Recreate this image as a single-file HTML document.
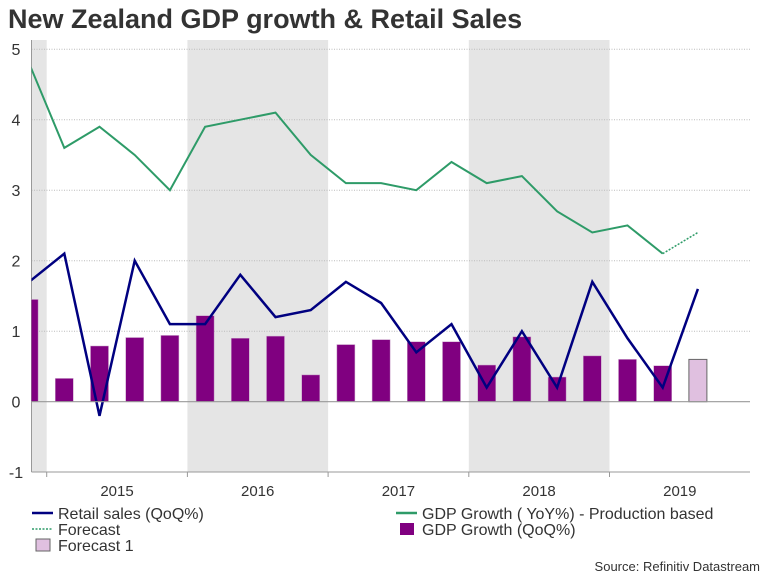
<!DOCTYPE html>
<html><head><meta charset="utf-8"><style>
body{margin:0;background:#fff;font-family:"Liberation Sans",sans-serif;}
svg text{font-family:"Liberation Sans",sans-serif;}
</style></head><body>
<svg width="768" height="576" xmlns="http://www.w3.org/2000/svg">
<text x="8" y="28" font-size="27" font-weight="bold" fill="#333">New Zealand GDP growth &amp; Retail Sales</text>
<g id="plot"></g>
<g font-size="16" fill="#333">
<line x1="32" y1="513" x2="53" y2="513" stroke="#000080" stroke-width="2.5"/>
<text x="58" y="519">Retail sales (QoQ%)</text>
<line x1="32" y1="529" x2="53" y2="529" stroke="#2e9b68" stroke-width="1.5" stroke-dasharray="2,1.5"/>
<text x="58" y="535">Forecast</text>
<rect x="36" y="539" width="14" height="12" fill="#e0c0e0" stroke="#666"/>
<text x="58" y="551">Forecast 1</text>
<line x1="396" y1="513" x2="417" y2="513" stroke="#2e9b68" stroke-width="2.5"/>
<text x="422" y="519">GDP Growth ( YoY%) - Production based</text>
<rect x="400" y="523" width="14" height="12" fill="#800080"/>
<text x="422" y="535">GDP Growth (QoQ%)</text>
</g>
<text x="760" y="571" font-size="13" fill="#333" text-anchor="end">Source: Refinitiv Datastream</text>
</svg>
<script>
const years = ["2015","2016","2017","2018","2019"];
const yTicks = [-1,0,1,2,3,4,5];
const gdpQoQ = [1.45,0.33,0.79,0.91,0.94,1.22,0.90,0.93,0.38,0.81,0.88,0.85,0.85,0.52,0.92,0.35,0.65,0.60,0.51];
const forecastBar = [0.6];
const retail = [1.7,2.1,-0.2,2.0,1.1,1.1,1.8,1.2,1.3,1.7,1.4,0.7,1.1,0.2,1.0,0.2,1.7,0.9,0.2,1.6];
const gdpYoY = [4.8,3.6,3.9,3.5,3.0,3.9,4.0,4.1,3.5,3.1,3.1,3.0,3.4,3.1,3.2,2.7,2.4,2.5,2.1];
const gdpForecast = [2.1,2.4];
const shadedYears = [0,2,4];

const NS="http://www.w3.org/2000/svg";
const L=31.5,R=750,T=40,B=472;
const y=v=>401.7-v*70.5;
const x=i=>29.1+35.2*i;
const yearStart=k=>46.7+140.7*k;
const g=document.getElementById('plot');
function mk(t,a,p){const e=document.createElementNS(NS,t);for(const k in a)e.setAttribute(k,a[k]);(p||g).appendChild(e);return e;}
const defs=mk('defs',{});
const cp=mk('clipPath',{id:'c'},defs);mk('rect',{x:L,y:T,width:R-L,height:B-T},cp);
const s0=mk('rect',{x:L,y:T,width:yearStart(0)-L,height:B-T,fill:'#e5e5e5'});


shadedYears.forEach(k=>{if(k<4){const r=mk('rect',{x:yearStart(k+1),y:T,width:140.7,height:B-T,fill:'#e5e5e5'});

}});
yTicks.forEach(v=>{
 if(v!==0&&v!==-1){const l=mk('line',{x1:L,x2:R,y1:y(v),y2:y(v),stroke:'#bbb','stroke-dasharray':'1,1.5','stroke-width':1});
 
 }
 const t=mk('text',{x:16,y:y(v)+6,'font-size':16,fill:'#333','text-anchor':'middle'});t.textContent=v;
 
 
});
mk('line',{x1:L,x2:L,y1:T,y2:B,stroke:'#999'});
mk('line',{x1:L,x2:R,y1:B,y2:B,stroke:'#999'});
for(let k=0;k<5;k++){mk('line',{x1:yearStart(k),x2:yearStart(k),y1:B,y2:B+5,stroke:'#999'});}
years.forEach((s,k)=>{const t=mk('text',{x:yearStart(k)+70.3,y:496,'font-size':15,fill:'#333','text-anchor':'middle'});t.textContent=s;

});
const cg=mk('g',{'clip-path':'url(#c)'});
gdpQoQ.forEach((v,i)=>{const r=mk('rect',{x:x(i)-9,y:Math.min(y(v),y(0)),width:18,height:Math.abs(y(v)-y(0)),fill:'#800080',stroke:'#c9a0c9','stroke-width':0.5},cg);

});
forecastBar.forEach((v,j)=>{const i=gdpQoQ.length+j;const r=mk('rect',{x:x(i)-9,y:y(v),width:18,height:y(0)-y(v),fill:'#e0c0e0',stroke:'#666','stroke-width':1},cg);

});
const zl=mk('line',{x1:L,x2:R,y1:y(0),y2:y(0),stroke:'#999','stroke-width':1.2});


const pts=(a,o)=>a.map((v,i)=>x(i+o)+','+y(v)).join(' ');
const p1=mk('polyline',{points:pts(gdpYoY,0),fill:'none',stroke:'#2e9b68','stroke-width':2},cg);


const p2=mk('polyline',{points:pts(gdpForecast,gdpYoY.length-1),fill:'none',stroke:'#2e9b68','stroke-width':1.5,'stroke-dasharray':'2,1.5'},cg);


const p3=mk('polyline',{points:pts(retail,0),fill:'none',stroke:'#000080','stroke-width':2.5},cg);


</script>
</body></html>
